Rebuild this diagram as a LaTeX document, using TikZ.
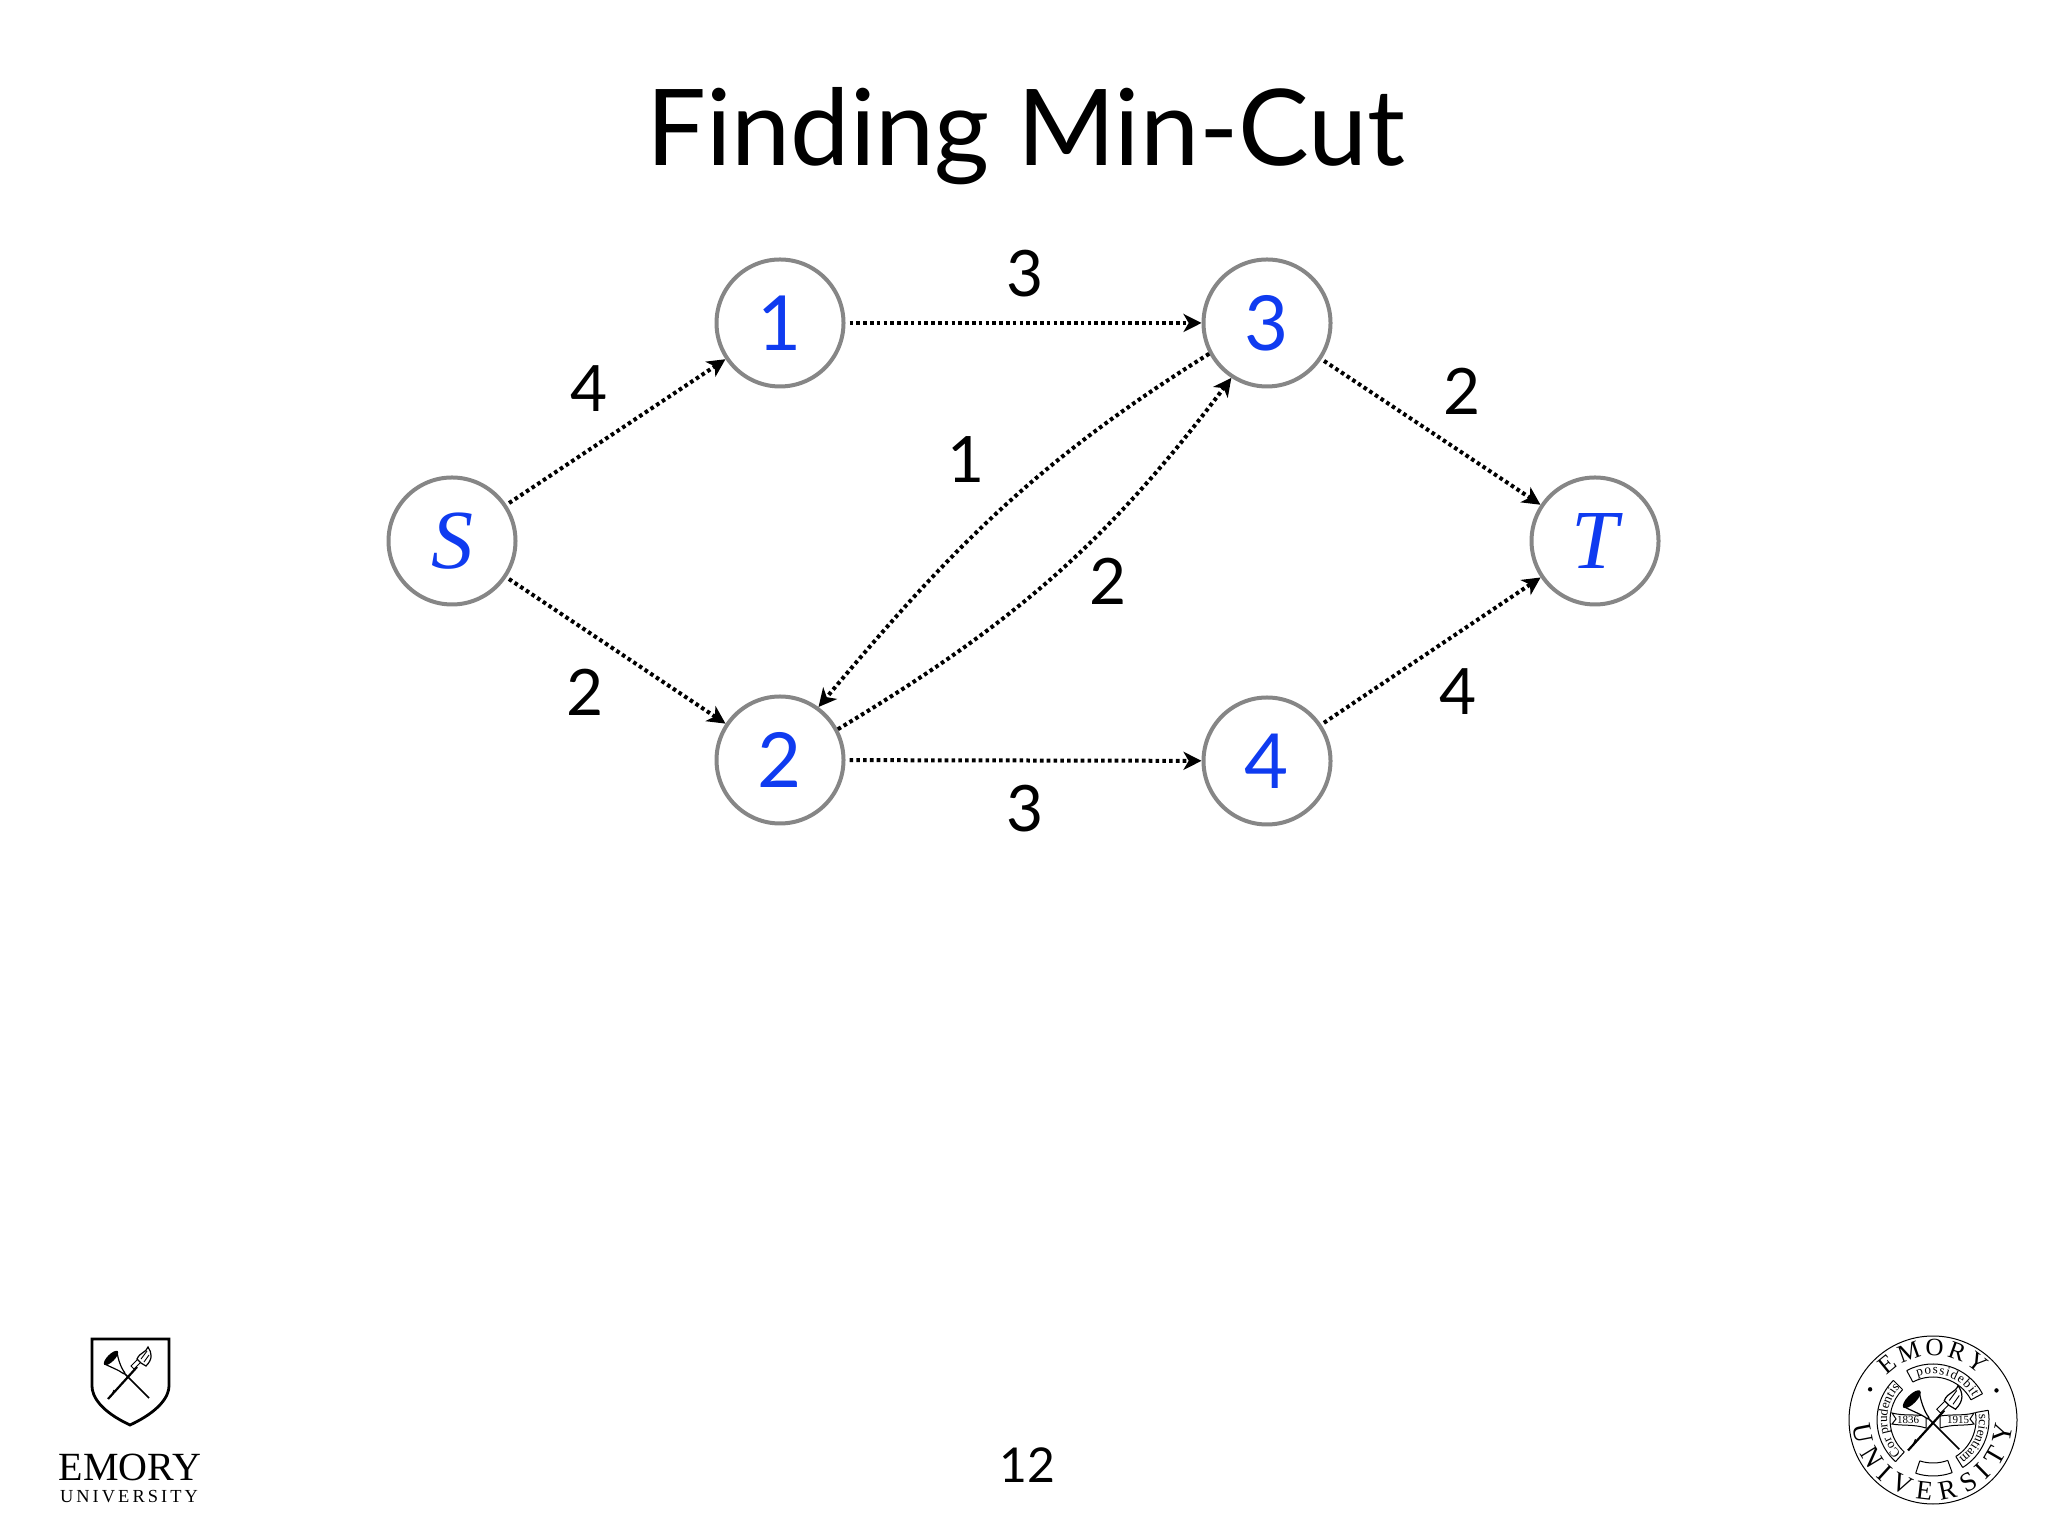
\documentclass[tikz,border=0pt]{standalone}
\usepackage{fontspec}
\setmainfont{Lato}
\newfontfamily\serifit{Liberation Serif}
\usetikzlibrary{arrows.meta,decorations.text,calc}
\definecolor{nodeblue}{HTML}{0F3BF0}
\definecolor{ringgray}{HTML}{868686}
\tikzset{
  vertex/.style={circle,draw=ringgray,line width=2pt,minimum size=63.5pt,inner sep=0pt,fill=white,text=nodeblue,font=\fontsize{38}{38}\selectfont},
  varvertex/.style={vertex,font=\serifit\itshape\fontsize{42}{42}\selectfont},
  flow/.style={black,line width=2pt,dash pattern=on 1.8pt off 1.6pt,-{Stealth[length=9pt,width=9pt,inset=2.6pt]},shorten <=1.5pt},
  caplabel/.style={text=black,font=\fontsize{32}{32}\selectfont,inner sep=0pt},
  logoline/.style={black,line width=0.5pt},
  pics/torches/.style={code={
    % horn
    \draw[black,line width=0.8pt] (-4,4) -- (21,-21);
    \draw[black,line width=0.6pt,fill=white] (-11,25) .. controls (-10,18) and (-7,9) .. (-3.4,4.6)
       -- (-4.6,3.4) .. controls (-9,7) and (-18,10) .. (-23,13) -- cycle;
    \fill[black,rotate around={45:(-17,19)}] (-17,19) ellipse[x radius=9.5,y radius=3.6];
    % torch
    \draw[black,line width=1.1pt] (9,10) -- (-20,-22);
    \draw[black,line width=0.6pt] (-14,-13) -- (-16,-18);
    \draw[black,line width=0.5pt,fill=white] (6,8) -- (13,15) -- (10,18) -- (3,11) -- cycle;
    \draw[black,line width=0.6pt,fill=white] (9,18) .. controls (12,25) and (18,24) .. (20,30)
       .. controls (24,24) and (25,18) .. (18,11) -- (13,14) -- cycle;
    \draw[black,line width=0.45pt] (13,18) -- (19,26) (16,15) -- (21,22);
  }}
}
\begin{document}
\begin{tikzpicture}[x=0.5pt,y=0.5pt]
\useasboundingbox (0,0) rectangle (2048,1536);

\node[font=\fontsize{53}{53}\selectfont,inner sep=0pt,anchor=base] (title) at (1026,1370) {Finding Min-Cut};

\node[varvertex] (S) at (452,995) {S};
\node[vertex] (n1) at (780,1213) {1};
\node[vertex] (n3) at (1267,1213) {3};
\node[vertex] (n2) at (780,776) {2};
\node[vertex] (n4) at (1267,775) {4};
\node[varvertex] (T) at (1595,995) {T};

\draw[flow] (S) -- (n1);
\draw[flow] (S) -- (n2);
\draw[flow,shorten <=2pt] (n1) -- (n3);
\draw[flow,shorten <=2pt] (n2) -- (n4);
\draw[flow] (n3) -- (T);
\draw[flow] (n4) -- (T);
\draw[flow,shorten <=0pt] (n3.208) to[out=212,in=50] (n2.54);
\draw[flow,shorten <=0pt] (n2.28) to[out=31,in=233] (n3.237);

\node[caplabel] (c13) at (1025,1262) {3};
\node[caplabel] (cs1) at (589,1147) {4};
\node[caplabel] (c3t) at (1462,1145) {2};
\node[caplabel] (c32) at (966,1076) {1};
\node[caplabel] (c23) at (1108,955) {2};
\node[caplabel] (cs2) at (585,844) {2};
\node[caplabel] (c4t) at (1458,844) {4};
\node[caplabel] (c24) at (1025,727) {3};
\node[font=\fontsize{24}{24}\selectfont,inner sep=0pt] (page) at (1027,71) {12};

% Emory shield (left)
\draw[black,line width=1.4pt,fill=white]
  (92,197) -- (169,197) -- (169,150)
  .. controls (169,140) and (160,125) .. (130,111)
  .. controls (100,125) and (92,140) .. (92,150) -- cycle;
\pic at (128,159) {torches};
\node[font=\serifit\fontsize{20}{20}\selectfont,inner sep=0pt,anchor=base] (emory) at (130,56) {EMORY};
\node[font=\serifit\fontsize{9.2}{9.2}\selectfont,inner sep=0pt,anchor=base] (univ) at (129,34) {U\,N\,I\,V\,E\,R\,S\,I\,T\,Y};

% Emory seal (right)
\begin{scope}[shift={(1933,116)}]
  \draw[logoline] (0,0) circle[radius=84];
  \path[decorate,decoration={text along path,text align=fit to path,
     text={|\serifit\fontsize{12.5}{12.5}\selectfont|EMORY}}]
     (136:64) arc[start angle=136,end angle=44,radius=64];
  \path[decorate,decoration={text along path,text align=fit to path,
     text={|\serifit\fontsize{13.5}{13.5}\selectfont|UNIVERSITY}}]
     (184:80) arc[start angle=184,end angle=356,radius=80];
  \fill[black] (154:70) circle[radius=2.2] (25:70) circle[radius=2.2];
  % banner
  \foreach \a/\b in {118/28,135/228,10/-58,-70/-108}{
    \draw[logoline] (\a:56) arc[start angle=\a,end angle=\b,radius=56];
    \draw[logoline] (\a:43) arc[start angle=\a,end angle=\b,radius=43];
    \draw[logoline] (\a:43) -- (\a:56) (\b:43) -- (\b:56);
  }
  \path[decorate,decoration={text along path,text align=fit to path,
     text={|\serifit\fontsize{6.6}{6.6}\selectfont|possidebit}}]
     (110:46) arc[start angle=110,end angle=30,radius=46];
  \path[decorate,decoration={text along path,text align=fit to path,
     text={|\serifit\fontsize{6.6}{6.6}\selectfont|Cor prudentis}}]
     (226:46) arc[start angle=226,end angle=137,radius=46];
  \path[decorate,decoration={text along path,text align=fit to path,
     text={|\serifit\fontsize{6.6}{6.6}\selectfont|scientiam}}]
     (7:46) arc[start angle=7,end angle=-56,radius=46];
  % torches and year ribbons
  \draw[logoline,fill=white] (-41,-4) .. controls (-30,-6) and (-20,-4) .. (-7,-8) -- (-7,4)
     .. controls (-20,6) and (-30,4) .. (-41,7) -- (-37,1) -- cycle;
  \draw[logoline,fill=white] (41,-4) .. controls (30,-6) and (20,-4) .. (7,-8) -- (7,4)
     .. controls (20,6) and (30,4) .. (41,7) -- (37,1) -- cycle;
  \node[font=\serifit\fontsize{5.5}{5.5}\selectfont,inner sep=0pt] (y1) at (-25,0) {1836};
  \node[font=\serifit\fontsize{5.5}{5.5}\selectfont,inner sep=0pt] (y2) at (25,0) {1915};
  \pic[scale=1.25] at (0,-3) {torches};
\end{scope}
\end{tikzpicture}
\end{document}
